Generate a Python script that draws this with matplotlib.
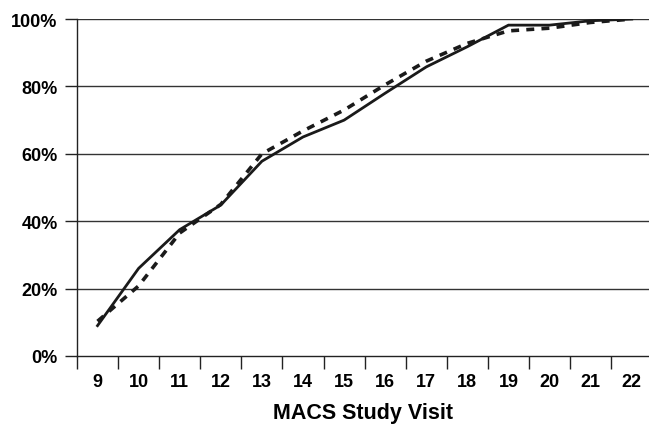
import matplotlib
matplotlib.use("Agg")
import matplotlib.pyplot as plt
from matplotlib.ticker import FixedLocator, NullFormatter, FixedFormatter

visits = [9, 10, 11, 12, 13, 14, 15, 16, 17, 18, 19, 20, 21, 22]
solid_vals = [9.0, 26.0, 37.5, 44.8, 57.8, 65.0, 70.0, 78.0, 85.8, 91.8, 98.2, 98.2, 99.5, 100.0]
dashed_vals = [10.3, 20.8, 36.5, 45.0, 60.0, 66.8, 73.0, 80.5, 87.5, 92.8, 96.5, 97.3, 99.0, 100.0]
y_ticks = [0, 20, 40, 60, 80, 100]
y_labels = ["0%", "20%", "40%", "60%", "80%", "100%"]
x_label = "MACS Study Visit"

plt.rcParams['font.family'] = ['Liberation Sans', 'DejaVu Sans']

fig = plt.figure(figsize=(6.49, 4.27), dpi=100)
ax = fig.add_axes([0.1186, 0.164, 1.0 - 0.1186, 0.953 - 0.164])

ax.plot(visits, solid_vals, color='#1a1a1a', lw=2.0, solid_joinstyle='miter', zorder=3)
ax.plot(visits, dashed_vals, color='#1a1a1a', lw=2.6, dashes=(2.2, 2.0), zorder=3)

ax.set_xlim(8.5, 22.42)
ax.set_ylim(0, 100)

for y in y_ticks[1:]:
    ax.axhline(y, color='#333333', lw=1.0, zorder=1)

ax.spines['top'].set_visible(False)
ax.spines['right'].set_visible(False)
ax.spines['left'].set_color('#222222')
ax.spines['bottom'].set_color('#222222')
ax.spines['left'].set_linewidth(1.0)
ax.spines['bottom'].set_linewidth(1.0)

ax.set_yticks(y_ticks)
ax.set_yticklabels(y_labels, fontsize=13, fontweight='bold')
ax.tick_params(axis='y', length=9, width=1.0, color='#222222', pad=5)

bounds = [v - 0.5 for v in visits] + [visits[-1] + 0.5]
ax.xaxis.set_major_locator(FixedLocator(bounds))
ax.xaxis.set_major_formatter(NullFormatter())
ax.xaxis.set_minor_locator(FixedLocator(visits))
ax.xaxis.set_minor_formatter(FixedFormatter([str(v) for v in visits]))
ax.tick_params(axis='x', which='major', length=9, width=1.0, color='#222222')
ax.tick_params(axis='x', which='minor', length=0, pad=12, labelsize=13)
for lbl in ax.get_xticklabels(minor=True):
    lbl.set_fontweight('bold')

ax.set_xlabel(x_label, fontsize=15.5, fontweight='bold', labelpad=9)

fig.savefig("out.png", dpi=100)
